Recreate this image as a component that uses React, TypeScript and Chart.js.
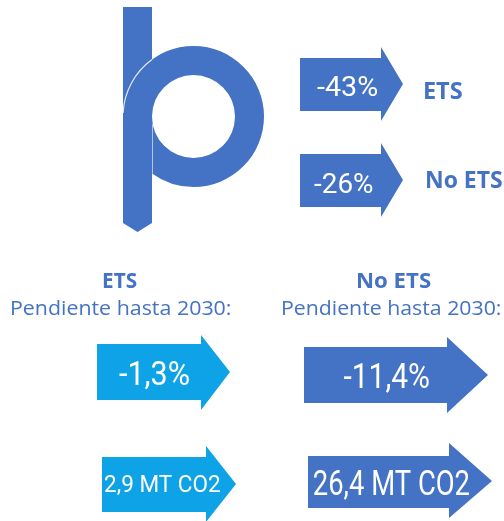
import { useEffect, useRef } from 'react';
import { Chart, registerables } from 'chart.js';

Chart.register(...registerables);

// ---------- data ----------
const topCategories = ['ETS', 'No ETS'];
const reductionTarget = [-43, -26]; // %
const slopeCategories = ['ETS', 'No ETS'];
const slopeTitle = 'Pendiente hasta 2030:';
const slopeUntil2030 = [-1.3, -11.4]; // %
const emissionsCut = [2.9, 26.4]; // MT CO2
const emissionsUnit = 'MT CO2';

// ---------- styles / layout (in axis units, 1 unit = 1 px) ----------
const DARK = '#4472C4';
const LIGHT = '#0EA2E6';
const W = 504;
const H = 521;

type ArrowGeom = {
  x0: number; x1: number; xt: number; ty: number;
  by0: number; by1: number; hy0: number; hy1: number;
  color: string;
  tcx: number; tbase: number; tsize: number; tw: number;
};

const topArrows: ArrowGeom[] = [
  { x0: 300, x1: 381, xt: 403, ty: 84, by0: 58, by1: 111, hy0: 47, hy1: 121, color: DARK, tcx: 347, tbase: 96, tsize: 27.5, tw: 60 },
  { x0: 300, x1: 381, xt: 403, ty: 180, by0: 154, by1: 207, hy0: 143, hy1: 217, color: DARK, tcx: 343.5, tbase: 193, tsize: 28, tw: 59 },
];
const slopeArrows: ArrowGeom[] = [
  { x0: 97, x1: 201, xt: 230, ty: 372, by0: 344, by1: 400, hy0: 335, hy1: 410, color: LIGHT, tcx: 154, tbase: 385, tsize: 33, tw: 70 },
  { x0: 304, x1: 447, xt: 488, ty: 375, by0: 347, by1: 403, hy0: 337, hy1: 413, color: DARK, tcx: 386.5, tbase: 388, tsize: 35, tw: 86 },
];
const emissionArrows: ArrowGeom[] = [
  { x0: 102, x1: 206, xt: 236, ty: 484, by0: 457, by1: 512, hy0: 446, hy1: 522, color: LIGHT, tcx: 162.5, tbase: 491.5, tsize: 24.5, tw: 115 },
  { x0: 308, x1: 449, xt: 492, ty: 481, by0: 456, by1: 508, hy0: 443, hy1: 518, color: DARK, tcx: 391.5, tbase: 495, tsize: 35, tw: 156 },
];
const topLabelPos = [
  { cx: 443.5, base: 99, w: 37 },
  { cx: 464.5, base: 188, w: 75 },
];
const slopeLabelPos = [
  { cx: 120, base: 288, w: 34, tcx: 121, tbase: 315, tw: 218 },
  { cx: 394, base: 288, w: 74, tcx: 391.5, tbase: 315, tw: 217 },
];
const logo = { bx0: 123, bx1: 152, by0: 7, by1: 223, tip: 232, cx: 193.5, cy: 116.5, ro: 70.5, ri: 41.5 };

const fmtComma = (v: number) => v.toFixed(1).replace('.', ',');
const fmtPct0 = (v: number) => `${v}%`;
const fmtPct1 = (v: number) => `${fmtComma(v)}%`;
const fmtMt = (v: number) => `${fmtComma(v)} ${emissionsUnit}`;

function fitText(ctx: CanvasRenderingContext2D, txt: string, cx: number, base: number, font: string, w: number, color: string) {
  ctx.save();
  ctx.font = font;
  ctx.fillStyle = color;
  ctx.textAlign = 'left';
  ctx.textBaseline = 'alphabetic';
  const m = ctx.measureText(txt);
  const abl = m.actualBoundingBoxLeft;
  const abr = m.actualBoundingBoxRight;
  const ink = abl + abr || m.width;
  const s = w / ink;
  ctx.translate(cx, base);
  ctx.scale(s, 1);
  ctx.fillText(txt, -(abr - abl) / 2, 0);
  ctx.restore();
}

const infographicPlugin = {
  id: 'infographic',
  afterDatasetsDraw(chart: any) {
    const ctx: CanvasRenderingContext2D = chart.ctx;
    const xs = chart.scales.x;
    const ys = chart.scales.y;
    const px = (v: number) => xs.getPixelForValue(v);
    const py = (v: number) => ys.getPixelForValue(v);
    const ux = px(1) - px(0);

    // logo
    ctx.save();
    ctx.fillStyle = DARK;
    ctx.beginPath();
    ctx.moveTo(px(logo.bx0), py(logo.by0));
    ctx.lineTo(px(logo.bx1), py(logo.by0));
    ctx.lineTo(px(logo.bx1), py(logo.by1));
    ctx.lineTo(px((logo.bx0 + logo.bx1) / 2), py(logo.tip));
    ctx.lineTo(px(logo.bx0), py(logo.by1));
    ctx.closePath();
    ctx.fill();

    const cx = px(logo.cx), cy = py(logo.cy), ro = logo.ro * ux, ri = logo.ri * ux;
    const endA = Math.PI - Math.acos((logo.cx - logo.bx1) / logo.ro);
    ctx.beginPath();
    ctx.arc(cx, cy, ro, Math.PI, endA, false);
    ctx.lineTo(cx - ri, cy);
    ctx.arc(cx, cy, ri, Math.PI, -Math.PI, true);
    ctx.closePath();
    ctx.fill();
    // thin light edges
    ctx.strokeStyle = 'rgba(255,255,255,0.85)';
    ctx.lineWidth = 1.2;
    const topA = Math.PI + Math.acos((logo.cx - logo.bx1) / logo.ro);
    ctx.beginPath();
    ctx.arc(cx, cy, ro, Math.PI + 0.05, topA, false);
    ctx.stroke();
    ctx.strokeStyle = 'rgba(255,255,255,0.6)';
    ctx.lineWidth = 1;
    ctx.beginPath();
    ctx.moveTo(cx - ri + 0.5, cy + 8);
    ctx.lineTo(cx - ri + 0.5, cy + Math.sin(endA) * ro);
    ctx.stroke();
    ctx.restore();

    const meta = chart.getDatasetMeta(0);
    const drawArrow = (a: ArrowGeom, label: string) => {
      ctx.save();
      ctx.fillStyle = a.color;
      ctx.beginPath();
      ctx.moveTo(px(a.x0), py(a.by0));
      ctx.lineTo(px(a.x1), py(a.by0));
      ctx.lineTo(px(a.x1), py(a.hy0));
      ctx.lineTo(px(a.xt), py(a.ty));
      ctx.lineTo(px(a.x1), py(a.hy1));
      ctx.lineTo(px(a.x1), py(a.by1));
      ctx.lineTo(px(a.x0), py(a.by1));
      ctx.closePath();
      ctx.fill();
      ctx.restore();
      fitText(ctx, label, px(a.tcx), py(a.tbase), `400 ${a.tsize}px Roboto, "Liberation Sans", sans-serif`, a.tw * ux, '#FFFFFF');
    };

    const all = [...topArrows, ...slopeArrows, ...emissionArrows];
    const labels = [
      ...reductionTarget.map(fmtPct0),
      ...slopeUntil2030.map(fmtPct1),
      ...emissionsCut.map(fmtMt),
    ];
    all.forEach((a, i) => {
      if (meta.data[i]) drawArrow(a, labels[i]);
    });

    topCategories.forEach((c, i) => {
      const p = topLabelPos[i];
      fitText(ctx, c, px(p.cx), py(p.base), 'bold 23px "Open Sans", Lato, sans-serif', p.w * ux, DARK);
    });
    slopeCategories.forEach((c, i) => {
      const p = slopeLabelPos[i];
      fitText(ctx, c, px(p.cx), py(p.base), 'bold 22px "Open Sans", Lato, sans-serif', p.w * ux, DARK);
      fitText(ctx, slopeTitle, px(p.tcx), py(p.tbase), '20.5px "Open Sans", Lato, sans-serif', p.tw * ux, DARK);
    });
  },
};

export default function App() {
  const ref = useRef<HTMLCanvasElement | null>(null);
  useEffect(() => {
    document.body.style.margin = '0';
    const canvas = ref.current;
    if (!canvas) return;
    const all = [...topArrows, ...slopeArrows, ...emissionArrows];
    const values = [...reductionTarget, ...slopeUntil2030, ...emissionsCut];
    const chart = new Chart(canvas, {
      type: 'scatter',
      data: {
        datasets: [
          {
            label: 'arrows',
            data: all.map((a, i) => ({ x: (a.x0 + a.xt) / 2, y: a.ty, v: values[i] })) as any,
            pointRadius: 0,
            pointHoverRadius: 0,
          },
        ],
      },
      options: {
        responsive: false,
        animation: false,
        devicePixelRatio: 1,
        layout: { padding: 0 },
        events: [],
        plugins: { legend: { display: false }, tooltip: { enabled: false } },
        scales: {
          x: { type: 'linear', min: 0, max: W, display: false },
          y: { type: 'linear', min: 0, max: H, reverse: true, display: false },
        },
      },
      plugins: [infographicPlugin],
    });
    return () => chart.destroy();
  }, []);
  return (
    <div style={{ position: 'fixed', left: 0, top: 0, width: W, height: H, background: '#fff' }}>
      <canvas ref={ref} width={W} height={H} style={{ display: 'block', width: W, height: H }} />
    </div>
  );
}
